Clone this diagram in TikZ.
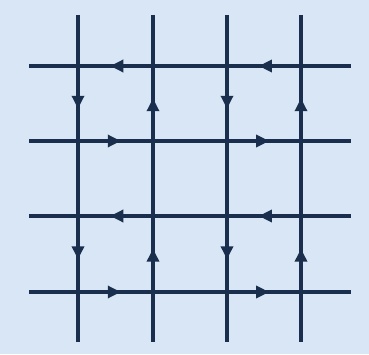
\documentclass[tikz,border=0pt]{standalone}
\usetikzlibrary{arrows.meta, decorations.markings}

\definecolor{wireblue}{HTML}{1A2F4D}
\definecolor{paperblue}{HTML}{D9E6F5}

\tikzset{
    wire/.style={line width=2pt, draw=wireblue},
    flow/.style={wire, postaction={decorate},
        decoration={markings, mark=at position 0.57 with {\arrow[wireblue]{Triangle[length=6.5pt,width=6pt]}}}},
}

\begin{document}
\begin{tikzpicture}[x=0.5pt, y=0.5pt]
    \fill[paperblue] (0,0) rectangle (369,354);
    \useasboundingbox (0,0) rectangle (369,354);
    % grid points
    \foreach \x [count=\i] in {78,153,227,301} {
        \coordinate (v\i n) at (\x,339);
        \coordinate (v\i s) at (\x,12);
        \foreach \y [count=\j] in {288,213,138,62}
            \coordinate (p\i\j) at (\x,\y);
    }
    \foreach \y [count=\j] in {288,213,138,62} {
        \coordinate (h\j w) at (29,\y);
        \coordinate (h\j e) at (351,\y);
    }
    % lines
    \foreach \k in {1,...,4} {
        \draw[wire] (v\k n) -- (v\k s);
        \draw[wire] (h\k w) -- (h\k e);
    }
    % circulation round four cells
    \foreach \i [evaluate=\i as \ii using int(\i+1)] in {1,3} {
        \foreach \j [evaluate=\j as \jj using int(\j+1)] in {1,3} {
            \draw[flow] (p\ii\j) -- (p\i\j);
            \draw[flow] (p\i\j) -- (p\i\jj);
            \draw[flow] (p\i\jj) -- (p\ii\jj);
            \draw[flow] (p\ii\jj) -- (p\ii\j);
        }
    }
\end{tikzpicture}
\end{document}
